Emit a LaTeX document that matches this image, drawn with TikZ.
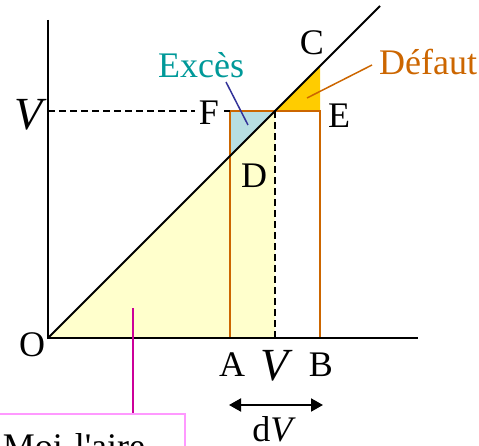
\documentclass[tikz,border=0pt]{standalone}
\usepackage{fontspec}
\setmainfont{Liberation Serif}
\usetikzlibrary{arrows.meta}
\definecolor{paleyellow}{RGB}{255,255,204}
\definecolor{paleblue}{RGB}{183,222,226}
\definecolor{goldfill}{RGB}{255,204,0}
\definecolor{rust}{RGB}{204,102,0}
\definecolor{tealtxt}{RGB}{0,153,153}
\definecolor{navyline}{RGB}{51,51,153}
\definecolor{magentaline}{RGB}{204,0,153}
\definecolor{pinkbox}{RGB}{255,153,255}
\begin{document}
\begin{tikzpicture}[x=1pt,y=-1pt,
  lbl/.style={font=\fontsize{36}{40}\selectfont, inner sep=0pt, anchor=base},
  bigv/.style={font=\fontsize{46}{50}\selectfont\itshape, inner sep=0pt, anchor=base},
  axisline/.style={line width=2pt, black},
  rectline/.style={line width=2pt, rust},
  guide/.style={line width=1.8pt, black, dash pattern=on 7pt off 4pt},
  leader/.style={line width=1.5pt}]
\useasboundingbox (0,0) rectangle (479,446);
\clip (0,0) rectangle (479,446);
% key points
\coordinate (O) at (48,338);
\coordinate (Ytop) at (48,20);
\coordinate (Xend) at (418,338);
\coordinate (Dtop) at (380,6);
\coordinate (A) at (230,338);
\coordinate (B) at (320,338);
\coordinate (Vx) at (275,338);
\coordinate (P) at (275,111);
\coordinate (F) at (230,111);
\coordinate (E) at (320,111);
\coordinate (D) at (230,156);
\coordinate (C) at (320,66);
\coordinate (Vy) at (48,111);
% fills
\fill[paleyellow] (O) -- (P) -- (Vx) -- cycle;
\fill[paleblue] (F) -- (P) -- (D) -- cycle;
\fill[goldfill] (P) -- (C) -- (E) -- cycle;
% rectangle
\draw[rectline] (A) rectangle (E);
% guides
\draw[guide] (Vy) -- (F);
\draw[guide] (P) -- (Vx);
% axes and diagonal
\draw[axisline] (Ytop) -- (O) -- (Xend);
\draw[axisline] (O) -- (Dtop);
% labels
\node[bigv] (Vlab) at (29,130) {V};
\node[lbl, fill=white, inner xsep=4pt] (Flab) at (209,125) {F};
\node[lbl] (Elab) at (339,128) {E};
\node[lbl] (Clab) at (312,55) {C};
\node[lbl] (Dlab) at (254,188) {D};
\node[lbl] (Olab) at (32,356) {O};
\node[lbl] (Alab) at (232,376) {A};
\node[bigv] (Vxlab) at (275,380) {V};
\node[lbl] (Blab) at (321,376) {B};
\node[lbl] (dVlab) at (274,441) {d\textit{V}};
\node[lbl, anchor=base west, text=tealtxt] (exces) at (158,78) {Excès};
\node[lbl, anchor=base west, text=rust] (defaut) at (379,75) {Défaut};
% leaders
\coordinate (exS) at (226,82);
\coordinate (exT) at (248,125);
\draw[leader, navyline] (exS) -- (exT);
\coordinate (deS) at (372,65);
\coordinate (deT) at (307,98);
\draw[leader, rust] (deS) -- (deT);
% dV arrow
\coordinate (dva) at (229,405);
\coordinate (dvb) at (323,405);
\draw[line width=2pt, {Triangle[length=12pt,width=13pt]}-{Triangle[length=12pt,width=13pt]}] (dva) -- (dvb);
% pink box
\node[draw=pinkbox, line width=1.5pt, anchor=north west, inner xsep=12pt, inner ysep=20pt,
  text width=170pt, align=left, font=\fontsize{36}{40}\selectfont] (moi) at (-10,413) {Moi l\textquotesingle aire};
\coordinate (mg) at (133,308);
\draw[leader, magentaline] (mg) -- (mg |- moi.north);
\end{tikzpicture}
\end{document}
